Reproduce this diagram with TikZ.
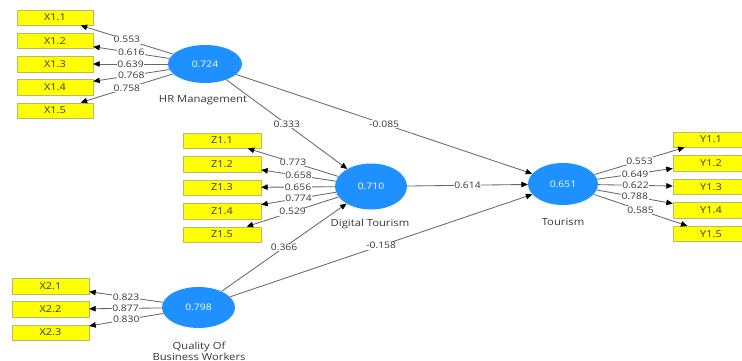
\documentclass[tikz,border=0pt]{standalone}
\usepackage{fontspec}
\setmainfont{Open Sans}[FakeStretch=1.15]
\usetikzlibrary{shapes.geometric,arrows.meta}
\definecolor{lvblue}{RGB}{30,144,255}
\definecolor{itemyellow}{RGB}{255,255,0}
\definecolor{itemedge}{RGB}{185,185,110}
\definecolor{edgegray}{RGB}{105,105,105}
\definecolor{txtgray}{RGB}{55,55,55}
\begin{document}
\begin{tikzpicture}[x=1pt,y=-1pt,
  construct/.style={ellipse, fill=lvblue, draw=none, inner sep=0pt, text=white,
    font=\fontsize{9}{10}\selectfont},
  indicator/.style={rectangle, fill=itemyellow, draw=itemedge, line width=0.4pt,
    minimum width=76pt, minimum height=15.5pt, inner sep=0pt, text=txtgray,
    font=\fontsize{9.5}{10}\selectfont},
  conn/.style={draw=edgegray, line width=0.85pt,
    -{Triangle[length=6.5pt,width=5.5pt,color=black]}},
  coef/.style={fill=white, inner sep=0.6pt, text=txtgray,
    font=\fontsize{9}{9.5}\selectfont},
  cname/.style={text=txtgray, font=\fontsize{9.8}{10.8}\selectfont, align=center}
]
\clip (0,0) rectangle (742,361);
\fill[white] (0,0) rectangle (742,361);

% latent constructs
\node[construct, minimum width=74pt, minimum height=38pt] (hr)   at (205,64)    {0.724};
\node[construct, minimum width=72pt, minimum height=46pt] (dt)   at (371,186.5) {0.710};
\node[construct, minimum width=70pt, minimum height=42pt] (tour) at (563,184)   {0.651};
\node[construct, minimum width=73pt, minimum height=41pt] (qbw)  at (198.5,307.5) {0.798};

% construct names
\node[cname] (hrname)   at (203,100) {HR Management};
\node[cname] (dtname)   at (370,224) {Digital Tourism};
\node[cname] (tourname) at (563,222) {Tourism};
\node[cname] (qbwname)  at (199,351) {Quality Of\\Business Workers};

% indicators
\foreach \k in {1,...,5} {
  \node[indicator] (x1\k) at (55, {17.5+23.25*(\k-1)}) {X1.\k};
  \node[indicator, minimum width=78pt] (z1\k) at (222, {140.5+23.5*(\k-1)}) {Z1.\k};
  \node[indicator] (y1\k) at (711, {139.5+23.6*(\k-1)}) {Y1.\k};
}
\foreach \k in {1,2,3}
  \node[indicator, minimum width=77pt] (x2\k) at (50.5, {286+23.25*(\k-1)}) {X2.\k};

% outer loadings
\foreach \k in {1,...,5} {
  \draw[conn] (hr) -- (x1\k);
  \draw[conn] (dt) -- (z1\k);
  \draw[conn] (tour) -- (y1\k);
}
\foreach \k in {1,2,3}
  \draw[conn] (qbw) -- (x2\k);

% structural paths
\draw[conn] (hr) -- (dt);
\draw[conn] (hr) -- (tour);
\draw[conn] (dt) -- (tour);
\draw[conn] (qbw) -- (dt);
\draw[conn] (qbw) -- (tour);

% coefficient labels
\foreach \k/\v in {1/0.553,2/0.616,3/0.639,4/0.768,5/0.758}
  \path (hr) -- (x1\k) node[coef, midway] {\v};
\foreach \k/\v in {1/0.773,2/0.658,3/0.656,4/0.774,5/0.529}
  \path (dt) -- (z1\k) node[coef, midway] {\v};
\foreach \k/\v in {1/0.553,2/0.649,3/0.622,4/0.788,5/0.585}
  \path (tour) -- (y1\k) node[coef, midway] {\v};
\foreach \k/\v in {1/0.823,2/0.877,3/0.830}
  \path (qbw) -- (x2\k) node[coef, midway] {\v};

\path (hr) -- (dt) node[coef, midway] {0.333};
\path (hr) -- (tour) node[coef, midway] {-0.085};
\path (dt) -- (tour) node[coef, midway] {0.614};
\path (qbw) -- (dt) node[coef, midway] {0.366};
\path (qbw) -- (tour) node[coef, midway] {-0.158};
\end{tikzpicture}
\end{document}
